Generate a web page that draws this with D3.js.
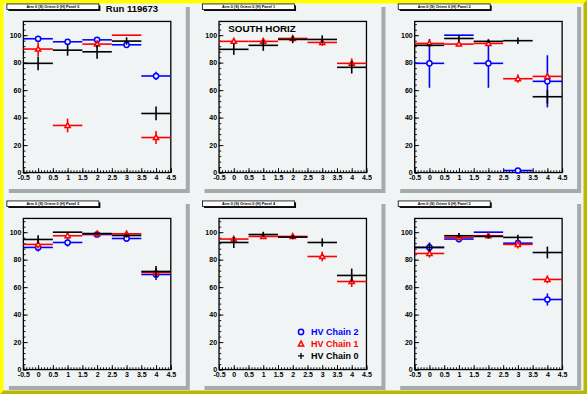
<!DOCTYPE html>
<html>
<head>
<meta charset="utf-8">
<script src="https://cdn.jsdelivr.net/npm/d3@7"></script>
<style>
  body { margin: 0; background: #f0f4f4; }
  svg { display: block; }
  text { font-family: "Liberation Sans", Arial, sans-serif; font-weight: bold; }
</style>
</head>
<body>
<div id="canvas"></div>
<script>
let width = 587;
let height = 394;

// grid order: top row panels 0,1,2 ; bottom row 5,4,3
let panelIds = [0, 1, 2, 5, 4, 3];
let bins = [0, 1, 2, 3, 4];
let xTicks = [-0.5, 0, 0.5, 1, 1.5, 2, 2.5, 3, 3.5, 4, 4.5];
let yTicks = [0, 20, 40, 60, 80, 100];

// efficiencies (%) and errors, one row per panel in grid order
let chain2Values = [
  [97.4, 95.2, 96.6, 93.0, 70.3],
  null,
  [79.5, 100, 79.5, 1.5, 66.4],
  [88.9, 92.5, 98.3, 95.4, 69.2],
  null,
  [88.9, 95.0, 100, 92.0, 51.0]
];
let chain2Errors = [
  [1, 1, 1, 1, 3],
  null,
  [17.8, 0, 17.8, 0, 19],
  [3, 3, 1.5, 2.4, 4],
  null,
  [3.6, 2.4, 0, 2, 4.4]
];
let chain1Values = [
  [89.9, 34.3, 93.5, 100, 25.5],
  [95.5, 95.5, 97.6, 94.7, 79.5],
  [94.0, 93.5, 94.0, 68.3, 70.0],
  [91.1, 97.4, 98.8, 98.8, 70.7],
  [95.0, 96.9, 96.9, 82.3, 64.1],
  [84.5, 96.2, 97.4, 91.1, 65.6]
];
let chain1Errors = [
  [5, 5, 2.7, 0, 4.7],
  [2.5, 2.5, 1.5, 2.5, 3.6],
  [2, 1.5, 2, 3, 2],
  [3, 2, 1, 1.5, 3],
  [2, 1.5, 1.5, 3.5, 4],
  [3, 1.5, 1.5, 3, 2.8]
];
let chain0Values = [
  [79.5, 89.1, 87.9, 95.7, 43.0],
  [89.7, 92.6, 96.9, 96.9, 76.6],
  [92.6, 97.6, 95.5, 96.0, 55.2],
  [94.7, 100, 99.0, 97.6, 71.4],
  [92.5, 98.3, 96.4, 92.5, 68.5],
  [88.9, 97.4, 96.9, 96.2, 85.2]
];
let chain0Errors = [
  [5, 4, 5, 2.7, 5],
  [4, 4, 2.7, 3, 4.5],
  [1, 2.4, 1, 2.4, 5],
  [3, 0, 1, 1.5, 4],
  [4, 2, 1.5, 3, 5],
  [3, 2, 1.5, 2, 4.3]
];

let series = [
  {name: "HV Chain 2", color: "#0000ff", marker: "circle", values: chain2Values, errors: chain2Errors},
  {name: "HV Chain 1", color: "#ff0000", marker: "triangle", values: chain1Values, errors: chain1Errors},
  {name: "HV Chain 0", color: "#000000", marker: "none", values: chain0Values, errors: chain0Errors}
];

let padColor = "#f0f4f4";

let svg = d3.select("#canvas").append("svg")
            .attr("width", width)
            .attr("height", height);

// canvas background + raised yellow bevel
svg.append("rect").attr("width", width).attr("height", height).attr("fill", padColor);
let b = 3.5;
svg.append("path")
   .attr("d", `M0,0H${width}L${width-b},${b}H${b}V${height-b}L0,${height}Z`)
   .attr("fill", "#ffff00");
svg.append("path")
   .attr("d", `M${width},0V${height}H0L${b},${height-b}H${width-b}V${b}Z`)
   .attr("fill", "#b8b800");

function drawMarker(g, kind, cx, cy, color) {
  if (kind == "circle") {
    g.append("circle").attr("cx", cx).attr("cy", cy).attr("r", 2.6)
     .attr("fill", padColor).attr("stroke", color).attr("stroke-width", 1.5);
  } else if (kind == "triangle") {
    g.append("path")
     .attr("d", `M${cx},${cy-2.8}L${cx+2.6},${cy+2}L${cx-2.6},${cy+2}Z`)
     .attr("fill", padColor).attr("stroke", color).attr("stroke-width", 1.5);
  }
}

panelIds.forEach(function(pid, i) {
  let col = i % 3, row = Math.floor(i / 3);
  let x0 = width * (col / 3 + 0.01), x1 = width * ((col + 1) / 3 - 0.01);
  let y0 = height * (row / 2 + 0.01), y1 = height * ((row + 1) / 2 - 0.01);

  let pad = svg.append("g");
  pad.append("rect").attr("x", x0).attr("y", y0).attr("width", x1 - x0).attr("height", y1 - y0)
     .attr("fill", padColor);
  // pad shadow (right, bottom)
  pad.append("path")
     .attr("d", `M${x1-4},${y0+3}H${x1}V${y1}H${x0+3}V${y1-4}H${x1-4}Z`)
     .attr("fill", "#a6aaaa");

  let fl = x0 + 17.5, fr = x1 - 19, ft = y0 + 17.5, fb = y1 - 20.5;
  let x = d3.scaleLinear().domain([-0.5, 4.5]).range([fl, fr]);
  let y = d3.scaleLinear().domain([0, 110]).range([fb, ft]);

  // axes, ticks pointing into the frame
  let minorX = d3.range(-0.5, 4.5001, 0.1).map(d => +d.toFixed(1));
  let minorY = d3.range(0, 110.001, 4);
  pad.append("g").attr("transform", `translate(0,${fb})`)
     .call(d3.axisBottom(x).tickValues(minorX).tickFormat("").tickSizeInner(-2.3).tickSizeOuter(0))
     .call(g => g.select(".domain").remove());
  pad.append("g").attr("transform", `translate(0,${fb})`)
     .call(d3.axisBottom(x).tickValues(xTicks).tickFormat(d => String(d)).tickSizeInner(-4.5).tickSizeOuter(0).tickPadding(2.5))
     .call(g => g.select(".domain").remove())
     .call(g => g.selectAll("text").attr("font-size", 7).attr("fill", "#000"));
  pad.append("g").attr("transform", `translate(${fl},0)`)
     .call(d3.axisLeft(y).tickValues(minorY).tickFormat("").tickSizeInner(-2.2).tickSizeOuter(0))
     .call(g => g.select(".domain").remove());
  pad.append("g").attr("transform", `translate(${fl},0)`)
     .call(d3.axisLeft(y).tickValues(yTicks).tickSizeInner(-4.4).tickSizeOuter(0).tickPadding(2))
     .call(g => g.select(".domain").remove())
     .call(g => g.selectAll("text").attr("font-size", 7).attr("fill", "#000"));
  pad.selectAll(".tick line").attr("stroke", "#000").attr("stroke-width", 0.9);

  pad.append("rect").attr("x", fl).attr("y", ft).attr("width", fr - fl).attr("height", fb - ft)
     .attr("fill", "none").attr("stroke", "#000").attr("stroke-width", 1.3);

  // data: bin-wide horizontal bar, vertical error, marker
  for (let s of series) {
    let vals = s.values[i], errs = s.errors[i];
    if (!vals) continue;
    let g = pad.append("g");
    bins.forEach(function(bx, k) {
      let v = vals[k], e = errs[k];
      g.append("line").attr("x1", x(bx - 0.5)).attr("x2", x(bx + 0.5))
       .attr("y1", y(v)).attr("y2", y(v))
       .attr("stroke", s.color).attr("stroke-width", 1.6);
      if (e > 0) {
        g.append("line").attr("x1", x(bx)).attr("x2", x(bx))
         .attr("y1", y(v - e)).attr("y2", y(v + e))
         .attr("stroke", s.color).attr("stroke-width", 1.6);
      }
      if (!(e == 0 && v >= 100)) drawMarker(g, s.marker, x(bx), y(v), s.color);
    });
  }

  // title box
  pad.append("rect").attr("x", x0 + 2.5).attr("y", y0 + 1.5).attr("width", 92).attr("height", 5.5)
     .attr("fill", "#000");
  pad.append("rect").attr("x", x0 + 1).attr("y", y0).attr("width", 92).attr("height", 5.5)
     .attr("fill", "#fff").attr("stroke", "#000").attr("stroke-width", 0.8);
  pad.append("text").attr("x", x0 + 47).attr("y", y0 + 4.3).attr("text-anchor", "middle")
     .attr("font-size", 3.8).text(`Arm 0 (S) Orient 0 (H) Panel ${pid}`);

  if (i == 0) {
    pad.append("text").attr("x", x0 + 100).attr("y", y0 + 8.4)
       .attr("font-size", 9.5).text("Run 119673");
  }
  if (i == 1) {
    pad.append("text").attr("x", x0 + 26.8).attr("y", y0 + 27.6)
       .attr("font-size", 9.8).text("SOUTH HORIZ");
  }
  if (i == 4) {
    series.forEach(function(s, k) {
      let ly = y0 + 131 + k * 12;
      let mx = x0 + 99.5;
      if (s.marker == "none") {
        pad.append("path").attr("d", `M${mx-3},${ly}H${mx+3}M${mx},${ly-3}V${ly+3}`)
           .attr("stroke", s.color).attr("stroke-width", 1.3);
      } else {
        drawMarker(pad, s.marker, mx, ly, s.color);
      }
      pad.append("text").attr("x", x0 + 109.5).attr("y", ly + 3.3)
         .attr("font-size", 9).attr("fill", s.color).text(s.name);
    });
  }
});
</script>
</body>
</html>
